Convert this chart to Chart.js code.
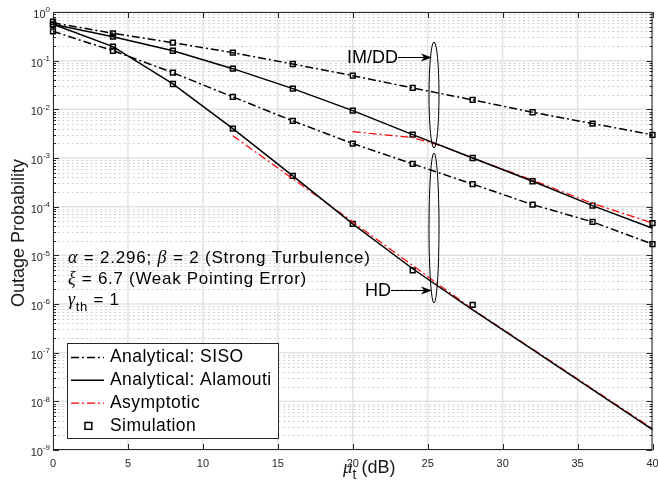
<!DOCTYPE html>
<html>
<head>
<meta charset="utf-8">
<script src="https://cdn.jsdelivr.net/npm/chart.js@4.4.1/dist/chart.umd.min.js"></script>
<style>
    html, body { margin: 0; padding: 0; background: #ffffff; }
    #box { width: 658px; height: 491px; }
</style>
</head>
<body>
<div id="box"><canvas id="outage"></canvas></div>
<script>
// SNR points (dB) where the curves are evaluated
const snrDb = [0, 4, 8, 12, 16, 20, 24, 28, 32, 36, 40];

// Analytical outage probability
const imddSiso = [0.60, 0.365, 0.234, 0.146, 0.0855, 0.0492, 0.0275, 0.0156, 0.0087, 0.0051, 0.0030];
const imddAlamouti = [0.56, 0.311, 0.160, 0.0685, 0.0266, 0.0094, 0.00302, 0.0010, 3.33e-4, 1.05e-4, 3.6e-5];
const hdSiso = [0.40, 0.160, 0.0567, 0.018, 0.00578, 0.00198, 7.56e-4, 2.9e-4, 1.1e-4, 4.87e-5, 1.70e-5];
const hdAlamouti = [0.56, 0.194, 0.0332, 0.00401, 4.29e-4, 4.43e-5, 5.3e-6, 7.6e-7, 1.15e-7, 1.73e-8, 2.61e-9];

// Asymptotic curves
const asymImddSnr = [20, 24, 26, 28, 32, 36, 40];
const asymImdd = [3.48e-3, 2.62e-3, 1.75e-3, 1.0e-3, 3.5e-4, 1.17e-4, 4.6e-5];
const asymHdSnr = [12, 20, 28, 40];
const asymHd = [2.88e-3, 4.87e-5, 7.8e-7, 2.74e-9];

// Monte-Carlo simulation
const simImddSiso = [0.63, 0.365, 0.234, 0.146, 0.0855, 0.0492, 0.0275, 0.0156, 0.0087, 0.0051, 0.0030];
const simImddAlamouti = [0.55, 0.311, 0.160, 0.0685, 0.0266, 0.0094, 0.00302, 0.0010, 3.33e-4, 1.05e-4, 4.6e-5];
const simHdSiso = [0.40, 0.160, 0.0567, 0.018, 0.00578, 0.00198, 7.56e-4, 2.9e-4, 1.1e-4, 4.87e-5, 1.70e-5];
const simHdSnr = [0, 4, 8, 12, 16, 20, 24, 28];
const simHdAlamouti = [0.55, 0.194, 0.0332, 0.00401, 4.29e-4, 4.43e-5, 4.9e-6, 9.6e-7];

// Axis ticks
const xTicks = [0, 5, 10, 15, 20, 25, 30, 35, 40];
const yExponents = [0, -1, -2, -3, -4, -5, -6, -7, -8, -9];

const SANS = '"Liberation Sans", Arial, Helvetica, sans-serif';
const GREEK = '"Liberation Serif", "Times New Roman", serif';
const AXIS_COLOR = "#262626";
const DASH_DOT = [8, 3, 2, 3];

function pts(xs, ys) {
    return ys.map((y, i) => ({ x: xs[i], y: y }));
}

function curve(xs, ys, color, dash, width) {
    return {
        data: pts(xs, ys),
        borderColor: color,
        borderWidth: width,
        borderDash: dash,
        pointRadius: 0,
        fill: false,
        tension: 0,
        clip: false
    };
}

function markers(xs, ys) {
    return {
        data: pts(xs, ys),
        showLine: false,
        pointStyle: "rect",
        pointRadius: 3.4,
        pointBorderWidth: 1.5,
        pointBorderColor: "#000000",
        pointBackgroundColor: "rgba(255,255,255,0)",
        clip: false
    };
}

// Draw a run of text pieces with their own fonts / offsets
function drawRuns(ctx, x, y, runs, spacing) {
    ctx.textBaseline = "middle";
    ctx.textAlign = "left";
    ctx.letterSpacing = (spacing || 0) + "px";
    for (const r of runs) {
        ctx.font = r.font;
        ctx.fillText(r.t, x, y + (r.dy || 0));
        x += ctx.measureText(r.t).width;
    }
    ctx.letterSpacing = "0px";
    return x;
}

function arrow(ctx, x0, y, x1) {
    ctx.beginPath();
    ctx.moveTo(x0, y);
    ctx.lineTo(x1 - 8, y);
    ctx.stroke();
    ctx.beginPath();
    ctx.moveTo(x1, y);
    ctx.lineTo(x1 - 11, y - 4);
    ctx.lineTo(x1 - 8, y);
    ctx.lineTo(x1 - 11, y + 4);
    ctx.closePath();
    ctx.fill();
}

const frame = {
    id: "frame",
    beforeDatasetsDraw(chart) {
        const ctx = chart.ctx;
        const a = chart.chartArea;
        const xs = chart.scales.x;
        const ys = chart.scales.y;
        ctx.save();

        // minor grid (dotted)
        ctx.strokeStyle = "#d2d2d2";
        ctx.lineWidth = 1;
        ctx.setLineDash([2, 2.7]);
        for (let e = -9; e < 0; e++) {
            for (let m = 2; m <= 9; m++) {
                const py = Math.round(ys.getPixelForValue(m * Math.pow(10, e))) + 0.5;
                ctx.beginPath();
                ctx.moveTo(a.left, py);
                ctx.lineTo(a.right, py);
                ctx.stroke();
            }
        }
        ctx.setLineDash([]);

        // major grid
        ctx.strokeStyle = "#e3e3e3";
        ctx.lineWidth = 1.5;
        for (const v of xTicks) {
            const px = xs.getPixelForValue(v);
            ctx.beginPath();
            ctx.moveTo(px, a.top);
            ctx.lineTo(px, a.bottom);
            ctx.stroke();
        }
        for (const e of yExponents) {
            const py = ys.getPixelForValue(Math.pow(10, e));
            ctx.beginPath();
            ctx.moveTo(a.left, py);
            ctx.lineTo(a.right, py);
            ctx.stroke();
        }

        // box
        ctx.strokeStyle = AXIS_COLOR;
        ctx.lineWidth = 1;
        ctx.strokeRect(a.left + 0.5, a.top + 0.5, a.right - a.left - 1, a.bottom - a.top - 1);

        // inward ticks
        ctx.beginPath();
        for (const v of xTicks) {
            const px = Math.round(xs.getPixelForValue(v)) + 0.5;
            ctx.moveTo(px, a.bottom);
            ctx.lineTo(px, a.bottom - 6);
            ctx.moveTo(px, a.top);
            ctx.lineTo(px, a.top + 6);
        }
        for (let e = -9; e <= 0; e++) {
            for (let m = 1; m <= 9; m++) {
                if (e === 0 && m > 1) break;
                const py = Math.round(ys.getPixelForValue(m * Math.pow(10, e))) + 0.5;
                const len = m === 1 ? 6 : 3;
                ctx.moveTo(a.left, py);
                ctx.lineTo(a.left + len, py);
                ctx.moveTo(a.right, py);
                ctx.lineTo(a.right - len, py);
            }
        }
        ctx.stroke();

        // tick labels
        ctx.fillStyle = AXIS_COLOR;
        ctx.font = "11px " + SANS;
        ctx.textAlign = "center";
        ctx.textBaseline = "top";
        for (const v of xTicks) {
            ctx.fillText(String(v), xs.getPixelForValue(v), a.bottom + 8);
        }
        for (const e of yExponents) {
            const py = ys.getPixelForValue(Math.pow(10, e));
            const exp = String(e);
            ctx.font = "8px " + SANS;
            const ew = ctx.measureText(exp).width;
            ctx.textAlign = "left";
            ctx.textBaseline = "middle";
            ctx.fillText(exp, a.left - 3 - ew, py - 2);
            ctx.font = "11px " + SANS;
            ctx.textAlign = "right";
            ctx.fillText("10", a.left - 3 - ew, py + 3);
        }

        // axis titles
        ctx.fillStyle = "#1a1a1a";
        ctx.save();
        ctx.translate(19, 233);
        ctx.rotate(-Math.PI / 2);
        ctx.font = "18px " + SANS;
        ctx.textAlign = "center";
        ctx.textBaseline = "middle";
        ctx.fillText("Outage Probability", 0, 0);
        ctx.restore();
        drawRuns(ctx, 343, 468, [
            { t: "\u03bc", font: "italic 19px " + GREEK },
            { t: "t", font: "14px " + SANS, dy: 7 },
            { t: " (dB)", font: "18px " + SANS }
        ]);
        ctx.restore();
    },
    afterDraw(chart) {
        const ctx = chart.ctx;
        ctx.save();
        ctx.fillStyle = "#000000";
        ctx.strokeStyle = "#000000";

        // parameter notes
        const f = "17px " + SANS;
        const g = "italic 18px " + GREEK;
        drawRuns(ctx, 68, 258, [
            { t: "\u03b1", font: g }, { t: " = 2.296; ", font: f },
            { t: "\u03b2", font: g }, { t: " = 2 (Strong Turbulence)", font: f }
        ], 0.8);
        drawRuns(ctx, 68, 279, [
            { t: "\u03be", font: g }, { t: " = 6.7 (Weak Pointing Error)", font: f }
        ], 0.7);
        drawRuns(ctx, 68, 300, [
            { t: "\u03b3", font: g }, { t: "th", font: "13px " + SANS, dy: 7 },
            { t: " = 1", font: f }
        ], 0.7);

        // scheme groups
        ctx.lineWidth = 1;
        ctx.beginPath();
        ctx.ellipse(434, 95, 5, 53, 0, 0, 2 * Math.PI);
        ctx.stroke();
        ctx.beginPath();
        ctx.ellipse(434, 228, 5, 75, 0, 0, 2 * Math.PI);
        ctx.stroke();
        drawRuns(ctx, 347, 58, [{ t: "IM/DD", font: "18px " + SANS }]);
        drawRuns(ctx, 365, 291, [{ t: "HD", font: "18px " + SANS }]);
        arrow(ctx, 398, 57.5, 432);
        arrow(ctx, 391, 290.5, 432);

        // legend
        const lx = 67, ly = 343, lw = 211, lh = 95;
        ctx.fillStyle = "#ffffff";
        ctx.fillRect(lx, ly, lw, lh);
        ctx.strokeStyle = AXIS_COLOR;
        ctx.strokeRect(lx + 0.5, ly + 0.5, lw, lh);
        const items = [
            { label: "Analytical: SISO", color: "#000000", dash: DASH_DOT },
            { label: "Analytical: Alamouti", color: "#000000", dash: [] },
            { label: "Asymptotic", color: "#ff0000", dash: DASH_DOT },
            { label: "Simulation", marker: true }
        ];
        items.forEach((it, i) => {
            const y = 357.5 + i * 22.8;
            if (it.marker) {
                ctx.setLineDash([]);
                ctx.strokeStyle = "#000000";
                ctx.lineWidth = 1.5;
                ctx.strokeRect(85, y - 3.4, 6.8, 6.8);
            } else {
                ctx.strokeStyle = it.color;
                ctx.lineWidth = it.color === "#ff0000" ? 1.2 : 1.5;
                ctx.setLineDash(it.dash);
                ctx.beginPath();
                ctx.moveTo(71, y);
                ctx.lineTo(104, y);
                ctx.stroke();
            }
            ctx.fillStyle = "#000000";
            drawRuns(ctx, 110, y, [{ t: it.label, font: "17.5px " + SANS }], 0.45);
        });
        ctx.restore();
    }
};

new Chart(document.getElementById("outage"), {
    type: "line",
    data: {
        datasets: [
            curve(snrDb, imddSiso, "#000000", DASH_DOT, 1.5),
            curve(snrDb, imddAlamouti, "#000000", [], 1.5),
            curve(snrDb, hdSiso, "#000000", DASH_DOT, 1.5),
            curve(snrDb, hdAlamouti, "#000000", [], 1.5),
            curve(asymImddSnr, asymImdd, "#ff0000", DASH_DOT, 1.2),
            curve(asymHdSnr, asymHd, "#ff0000", DASH_DOT, 1.2),
            markers(snrDb, simImddSiso),
            markers(snrDb, simImddAlamouti),
            markers(snrDb, simHdSiso),
            markers(simHdSnr, simHdAlamouti)
        ]
    },
    options: {
        responsive: true,
        maintainAspectRatio: false,
        animation: false,
        layout: { padding: { left: 53, top: 12, right: 4, bottom: 41 } },
        plugins: {
            legend: { display: false },
            tooltip: { enabled: false }
        },
        scales: {
            x: { type: "linear", min: 0, max: 40, display: false },
            y: { type: "logarithmic", min: 1e-9, max: 1, display: false }
        }
    },
    plugins: [frame]
});
</script>
</body>
</html>
